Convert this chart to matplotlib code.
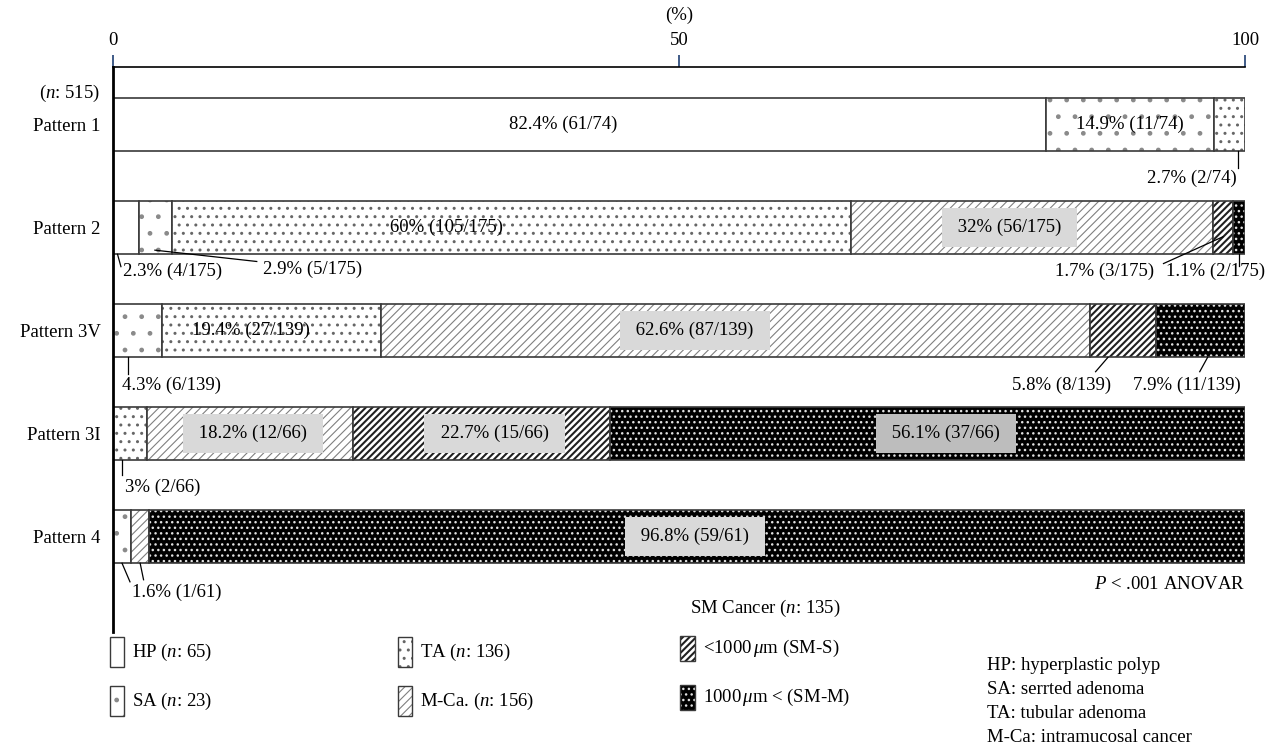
import numpy as np
import matplotlib
matplotlib.use('Agg')
import matplotlib.pyplot as plt
from matplotlib.patches import Rectangle
from matplotlib.transforms import blended_transform_factory

patterns = ['Pattern 1', 'Pattern 2', 'Pattern 3V', 'Pattern 3I', 'Pattern 4']
totals = [74, 175, 139, 66, 61]
categories = ['HP', 'SA', 'TA', 'M-Ca', 'SM-S', 'SM-M']

# lesion counts per pattern, columns follow categories
counts = [
    [61, 11, 2, 0, 0, 0],
    [4, 5, 105, 56, 3, 2],
    [0, 6, 27, 87, 8, 11],
    [0, 0, 2, 12, 15, 37],
    [0, 1, 0, 1, 0, 59],
]
# percentages as printed on the bars
percents = [
    [82.4, 14.9, 2.7, 0, 0, 0],
    [2.3, 2.9, 60, 32, 1.7, 1.1],
    [0, 4.3, 19.4, 62.6, 5.8, 7.9],
    [0, 0, 3, 18.2, 22.7, 56.1],
    [0, 1.6, 0, 1.6, 0, 96.8],
]
legend_labels = [r'HP ($n$: 65)', r'SA ($n$: 23)', r'TA ($n$: 136)',
                 r'M-Ca. ($n$: 156)', r'<1000$\,\mu$m (SM-S)', r'1000$\,\mu$m < (SM-M)']
sm_title = r'SM Cancer ($n$: 135)'
glossary = ['HP: hyperplastic polyp', 'SA: serrted adenoma',
            'TA: tubular adenoma', 'M-Ca: intramucosal cancer']
total_n = r'($n$: 515)'
stat_note = r'$P$ < .001 ANOVAR'


def main():
    plt.rcParams['font.family'] = 'serif'
    plt.rcParams['font.serif'] = ['Liberation Serif', 'DejaVu Serif']
    plt.rcParams['mathtext.fontset'] = 'custom'
    plt.rcParams['mathtext.rm'] = 'Liberation Serif'
    plt.rcParams['mathtext.it'] = 'Liberation Serif:italic'
    plt.rcParams['font.size'] = 13.5

    # face, hatch, hatch colour, hatch width
    styles = {
        'HP': ('white', None, 'black', 1.0),
        'SA': ('white', '.', '#8a8a8a', 1.0),
        'TA': ('white', '..', '#666666', 1.0),
        'M-Ca': ('white', '////', '#808080', 0.8),
        'SM-S': ('white', '/////', '#202020', 1.5),
        'SM-M': ('black', '...', '#e0e0e0', 1.0),
    }
    edge = '#3a3a3a'

    W, H = 1267, 744
    fig = plt.figure(figsize=(W / 100, H / 100), dpi=100)
    ax = fig.add_axes([113 / W, 1 - 632 / H, 1132 / W, 565 / H])

    pct = np.array(percents, dtype=float)
    cnt = np.array(counts)
    y = np.arange(len(patterns))
    bar_h = 0.515
    left = np.zeros(len(patterns))

    for k, cat in enumerate(categories):
        face, hatch, hc, hlw = styles[cat]
        w = pct[:, k]
        m = w > 0
        plt.rcParams['hatch.linewidth'] = hlw
        bars = ax.barh(y[m], w[m], left=left[m], height=bar_h, color=face,
                       edgecolor=hc, hatch=hatch, linewidth=0)
        for b in bars:
            if hasattr(b, 'set_hatch_linewidth'):
                b.set_hatch_linewidth(hlw)
        ax.barh(y[m], w[m], left=left[m], height=bar_h, fill=False,
                edgecolor=edge, linewidth=1.2)
        left += w

    # labels drawn inside the bars: x position, box colour
    inside = {
        (0, 0): (39.8, None), (0, 1): (89.8, None),
        (1, 2): (29.5, None), (1, 3): (79.2, '#d9d9d9'),
        (2, 2): (12.2, None), (2, 3): (51.4, '#d9d9d9'),
        (3, 3): (12.4, '#d9d9d9'), (3, 4): (33.7, '#d9d9d9'), (3, 5): (73.6, '#bdbdbd'),
        (4, 5): (51.4, '#d9d9d9'),
    }
    # labels below the bars: text x, text y, leader lines
    outside = {
        (0, 2): (95.3, 0.52, [(99.4, 0.26, 99.4, 0.42)]),
        (1, 0): (5.3, 1.43, [(0.4, 1.26, 0.7, 1.38)]),
        (1, 1): (17.6, 1.41, [(3.7, 1.22, 12.7, 1.33)]),
        (1, 4): (87.6, 1.43, [(98.05, 1.09, 92.8, 1.35)]),
        (1, 5): (97.4, 1.43, [(99.5, 1.26, 99.5, 1.37)]),
        (2, 1): (5.2, 2.53, [(1.3, 2.26, 1.3, 2.42)]),
        (2, 4): (83.8, 2.53, [(87.9, 2.26, 86.8, 2.40)]),
        (2, 5): (94.9, 2.53, [(96.7, 2.26, 96.0, 2.40)]),
        (3, 2): (4.4, 3.52, [(0.8, 3.26, 0.8, 3.40)]),
        (4, 1): (5.6, 4.54, [(0.8, 4.26, 1.5, 4.44), (2.4, 4.26, 2.7, 4.42)]),
    }

    for i in range(len(patterns)):
        for k in range(len(categories)):
            if cnt[i, k] == 0:
                continue
            label = '%g%% (%d/%d)' % (pct[i, k], cnt[i, k], totals[i])
            if (i, k) in inside:
                x, box = inside[(i, k)]
                if box:
                    ax.text(x, i, ' ' + label + ' ', ha='center', va='center',
                            bbox=dict(boxstyle='square,pad=0.6', fc=box, ec='none'))
                else:
                    ax.text(x, i, label, ha='center', va='center')
            elif (i, k) in outside:
                tx, ty, leads = outside[(i, k)]
                for x0, y0, x1, y1 in leads:
                    ax.plot([x0, x1], [y0, y1], color='black', linewidth=0.9)
                ax.text(tx, ty, label, ha='center', va='center')

    ax.set_xlim(0, 100)
    ax.set_ylim(4 + 95.5 / 103, -57.5 / 103)
    ax.xaxis.set_ticks_position('top')
    ax.set_xticks([0, 50, 100])
    ax.tick_params(axis='x', direction='out', length=9, width=1.2,
                   color='#1f3f73', pad=4)
    ax.set_yticks(y)
    ax.set_yticklabels(patterns)
    ax.tick_params(axis='y', length=0, pad=9)
    for s in ['right', 'bottom']:
        ax.spines[s].set_visible(False)
    ax.spines['top'].set_linewidth(1.2)
    ax.spines['left'].set_linewidth(2)

    axy = blended_transform_factory(ax.transAxes, ax.transData)
    ax.text(-13 / 1132, -0.306, total_n, ha='right', va='center', transform=axy)
    ax.text(0.5, 1.092, '(%)', ha='center', va='center', transform=ax.transAxes)
    ax.text(100, 4.47, stat_note, ha='right', va='center')

    # legend, placed in pixel units of the figure
    def fx(px):
        return px / W

    def fy(py):
        return 1 - py / H

    boxes = [(110, 637, 14, 30), (110, 686, 14, 30), (398, 637, 14, 30),
             (398, 686, 14, 30), (680, 636, 15, 25), (680, 685, 15, 25)]
    for cat, lab, (bx, by, bw, bh) in zip(categories, legend_labels, boxes):
        face, hatch, hc, hlw = styles[cat]
        plt.rcParams['hatch.linewidth'] = hlw
        r = Rectangle((fx(bx), fy(by + bh)), bw / W, bh / H, transform=fig.transFigure,
                      facecolor=face, edgecolor=hc, hatch=hatch, linewidth=0)
        if hasattr(r, 'set_hatch_linewidth'):
            r.set_hatch_linewidth(hlw)
        fig.add_artist(r)
        fig.add_artist(Rectangle((fx(bx), fy(by + bh)), bw / W, bh / H,
                                 transform=fig.transFigure, fill=False,
                                 edgecolor=edge, linewidth=1.0))
        fig.text(fx(bx + bw + 8), fy(by + bh / 2), lab, ha='left', va='center')

    fig.text(fx(690), fy(608), sm_title, ha='left', va='center')
    for j, g in enumerate(glossary):
        fig.text(fx(987), fy(665 + 24 * j), g, ha='left', va='center')

    plt.savefig('out.png', dpi=100)


if __name__ == '__main__':
    main()
